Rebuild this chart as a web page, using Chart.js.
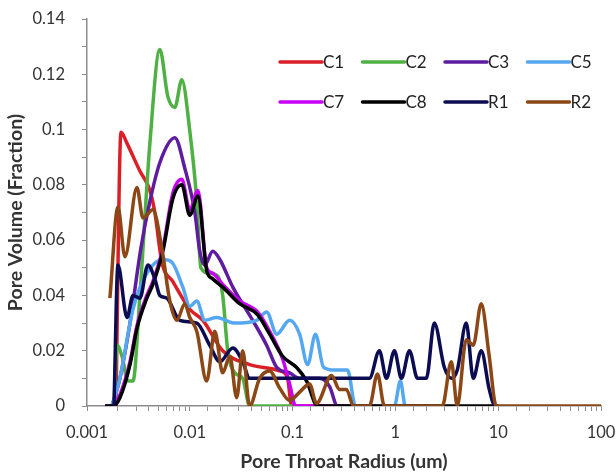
<!DOCTYPE html>
<html>
<head>
<meta charset="utf-8">
<script src="https://cdn.jsdelivr.net/npm/chart.js@4.4.1/dist/chart.umd.min.js"></script>
<style>
  html, body { margin: 0; padding: 0; background: #fff; }
  #chart { display: block; }
</style>
</head>
<body>
<canvas id="chart" width="616" height="473"></canvas>
<script>
// Series labels and colours
const seriesNames = ['C1', 'C2', 'C3', 'C5', 'C7', 'C8', 'R1', 'R2'];
const seriesColors = ['#dc1f26', '#4fb043', '#5e1d9e', '#55a8f0', '#c800f5', '#000000', '#0c0c52', '#8c4716'];

// Pore throat radius (um) / pore volume fraction
const c1X = [0.00191, 0.00214, 0.00245, 0.00327, 0.00409, 0.00457, 0.00535, 0.00684, 0.01, 0.0134, 0.0209, 0.0382, 0.0748, 0.0894, 0.0978, 0.2];
const c1Y = [0, 0.099, 0.095, 0.085, 0.078, 0.070, 0.052, 0.045, 0.035, 0.031, 0.020, 0.015, 0.0127, 0.010, 0, 0];

const c2X = [0.00183, 0.00196, 0.00219, 0.0025, 0.0028, 0.00327, 0.00409, 0.00511, 0.00611, 0.00715, 0.00836, 0.01, 0.0117, 0.0128, 0.0156, 0.0187, 0.0209, 0.0234, 0.0274, 0.0327, 0.0382, 0.1];
const c2Y = [0, 0.022, 0.018, 0.009, 0.009, 0.040, 0.095, 0.129, 0.112, 0.108, 0.118, 0.0995, 0.074, 0.050, 0.048, 0.047, 0.040, 0.020, 0.012, 0.010, 0, 0];

const c3X = [0.00175, 0.00209, 0.00262, 0.00334, 0.00409, 0.00511, 0.00715, 0.00894, 0.0112, 0.0125, 0.014, 0.0167, 0.0196, 0.0262, 0.0409, 0.0559, 0.07, 0.0935, 0.117, 0.183, 0.229, 0.273, 0.4];
const c3Y = [0, 0.010, 0.030, 0.057, 0.074, 0.088, 0.097, 0.086, 0.070, 0.056, 0.051, 0.056, 0.053, 0.043, 0.031, 0.022, 0.014, 0.012, 0.010, 0.010, 0.007, 0, 0];

const c5X = [0.00175, 0.00209, 0.0028, 0.00382, 0.00547, 0.00669, 0.00855, 0.01, 0.0117, 0.014, 0.0183, 0.0274, 0.0447, 0.0559, 0.07, 0.0935, 0.117, 0.14, 0.167, 0.2, 0.256, 0.342, 0.409, 0.978, 1.118, 1.25, 2];
const c5Y = [0, 0.010, 0.035, 0.048, 0.053, 0.052, 0.043, 0.036, 0.038, 0.031, 0.032, 0.030, 0.031, 0.034, 0.026, 0.031, 0.026, 0.015, 0.026, 0.014, 0.013, 0.013, 0, 0, 0.009, 0, 0];

const c7X = [0.0015, 0.00179, 0.00209, 0.00262, 0.00306, 0.00382, 0.00437, 0.00547, 0.00684, 0.00836, 0.01, 0.012, 0.0146, 0.0167, 0.0209, 0.0306, 0.0457, 0.0598, 0.08, 0.0935, 0.107, 0.3];
const c7Y = [0, 0, 0.004, 0.016, 0.029, 0.040, 0.045, 0.057, 0.077, 0.082, 0.071, 0.078, 0.050, 0.048, 0.044, 0.038, 0.034, 0.027, 0.017, 0.008, 0, 0];

const c8X = [0.0015, 0.00179, 0.00209, 0.00262, 0.00306, 0.00382, 0.00437, 0.00547, 0.00684, 0.00836, 0.01, 0.012, 0.0146, 0.0167, 0.0209, 0.0306, 0.0457, 0.0598, 0.08, 0.109, 0.137, 0.175, 10];
const c8Y = [0, 0, 0.003, 0.015, 0.028, 0.039, 0.044, 0.056, 0.075, 0.080, 0.069, 0.076, 0.049, 0.046, 0.043, 0.037, 0.033, 0.026, 0.018, 0.014, 0.009, 0, 0];

const r1X = [0.00183, 0.002, 0.00245, 0.0028, 0.00327, 0.00391, 0.00457, 0.00511, 0.00598, 0.008, 0.0117, 0.0156, 0.0196, 0.0262, 0.0327, 0.0382, 0.0598, 0.229, 0.559, 0.699, 0.818, 0.978, 1.144, 1.37, 1.64, 2.0, 2.39, 2.99, 3.5, 4.0, 4.89, 5.72, 6.84, 8.18, 9.35, 10];
const r1Y = [0, 0.051, 0.032, 0.040, 0.039, 0.051, 0.046, 0.040, 0.039, 0.031, 0.030, 0.022, 0.016, 0.021, 0.016, 0.010, 0.010, 0.010, 0.010, 0.020, 0.010, 0.020, 0.010, 0.020, 0.010, 0.010, 0.030, 0.014, 0.010, 0.013, 0.030, 0.010, 0.020, 0.006, 0, 0];

const r2X = [0.00167, 0.002, 0.00234, 0.00306, 0.0035, 0.00437, 0.00535, 0.00639, 0.00748, 0.00894, 0.01, 0.0117, 0.0146, 0.0175, 0.0209, 0.0245, 0.0286, 0.0327, 0.0382, 0.0478, 0.0598, 0.0748, 0.0935, 0.117, 0.146, 0.171, 0.239, 0.286, 0.334, 0.391, 0.559, 0.669, 0.782, 2.86, 3.5, 4.0, 4.89, 5.72, 6.84, 8.18, 9.56, 100];
const r2Y = [0.039, 0.072, 0.054, 0.079, 0.068, 0.071, 0.057, 0.038, 0.031, 0.037, 0.032, 0.027, 0.009, 0.027, 0.012, 0.018, 0.003, 0.020, 0, 0.010, 0.0127, 0.0065, 0.002, 0.005, 0.008, 0.001, 0.011, 0.006, 0.006, 0, 0, 0.0116, 0, 0, 0.016, 0, 0.024, 0.022, 0.037, 0.018, 0, 0];

// Axis ticks
const xMajorTicks = [0.001, 0.01, 0.1, 1, 10, 100];
const yTickLabels = [0, 0.02, 0.04, 0.06, 0.08, 0.1, 0.12, 0.14];

const seriesX = [c1X, c2X, c3X, c5X, c7X, c8X, r1X, r2X];
const seriesY = [c1Y, c2Y, c3Y, c5Y, c7Y, c8Y, r1Y, r2Y];

const FONT = 'Lato, "Open Sans", sans-serif';

const datasets = seriesNames.map((name, i) => ({
  label: name,
  data: seriesX[i].map((x, j) => ({ x, y: seriesY[i][j] })),
  borderColor: seriesColors[i],
  backgroundColor: seriesColors[i],
  borderWidth: 3.5,
  pointRadius: 0,
  cubicInterpolationMode: 'monotone',
  fill: false,
  order: seriesNames.length - 1 - i   // later series drawn on top, like Excel
}));

// Legend drawn inside the plot area, two rows of four
const insideLegend = {
  id: 'insideLegend',
  afterDatasetsDraw(chart) {
    const { ctx } = chart;
    const startX = 280, startY = 62, colW = 82.5, rowH = 40, lineLen = 42;
    ctx.save();
    ctx.font = '17px ' + FONT;
    ctx.textBaseline = 'middle';
    ctx.textAlign = 'left';
    ctx.lineCap = 'round';
    chart.data.datasets.forEach((ds, i) => {
      const x = startX + (i % 4) * colW;
      const y = startY + Math.floor(i / 4) * rowH;
      ctx.strokeStyle = ds.borderColor;
      ctx.lineWidth = 3.5;
      ctx.beginPath();
      ctx.moveTo(x, y);
      ctx.lineTo(x + lineLen, y);
      ctx.stroke();
      ctx.fillStyle = '#222';
      ctx.fillText(ds.label, x + lineLen + 1, y + 1);
    });
    ctx.restore();
  }
};

new Chart(document.getElementById('chart'), {
  type: 'line',
  data: { datasets },
  options: {
    responsive: false,
    animation: false,
    layout: { padding: { left: 3, right: 15, top: 19, bottom: 0 } },
    plugins: {
      legend: { display: false },
      tooltip: { enabled: false }
    },
    scales: {
      x: {
        type: 'logarithmic',
        min: 0.001,
        max: 100,
        grid: { drawOnChartArea: false, tickLength: 5, color: '#8c8c8c' },
        border: { color: '#8c8c8c', width: 1.5 },
        ticks: {
          autoSkip: false,
          maxRotation: 0,
          padding: 12,
          color: '#333',
          font: { family: FONT, size: 16.5 },
          callback: (v) => xMajorTicks.some(t => Math.abs(t - v) / t < 1e-6) ? String(v) : ''
        },
        title: {
          display: true,
          text: 'Pore Throat Radius (um)',
          color: '#333',
          font: { family: FONT, size: 19.5, weight: 'bold' },
          padding: { top: 0, bottom: 0 }
        },
        afterFit: (s) => { s.height = 67; s.paddingLeft = 0; s.paddingRight = 0; }
      },
      y: {
        min: 0,
        max: 0.14,
        grid: { drawOnChartArea: false, tickLength: 5, color: '#8c8c8c' },
        border: { color: '#8c8c8c', width: 1.5 },
        ticks: {
          stepSize: 0.01,
          autoSkip: false,
          padding: 17,
          color: '#333',
          font: { family: FONT, size: 16.5 },
          callback: (v) => yTickLabels.some(t => Math.abs(t - v) < 1e-6) ? String(Number(v.toFixed(2))) : ''
        },
        title: {
          display: true,
          text: 'Pore Volume (Fraction)',
          color: '#333',
          font: { family: FONT, size: 19.5, weight: 'bold' },
          padding: { top: 1, bottom: 0 }
        },
        afterFit: (s) => { s.width = 84; s.paddingTop = 0; s.paddingBottom = 0; }
      }
    }
  },
  plugins: [insideLegend]
});
</script>
</body>
</html>
